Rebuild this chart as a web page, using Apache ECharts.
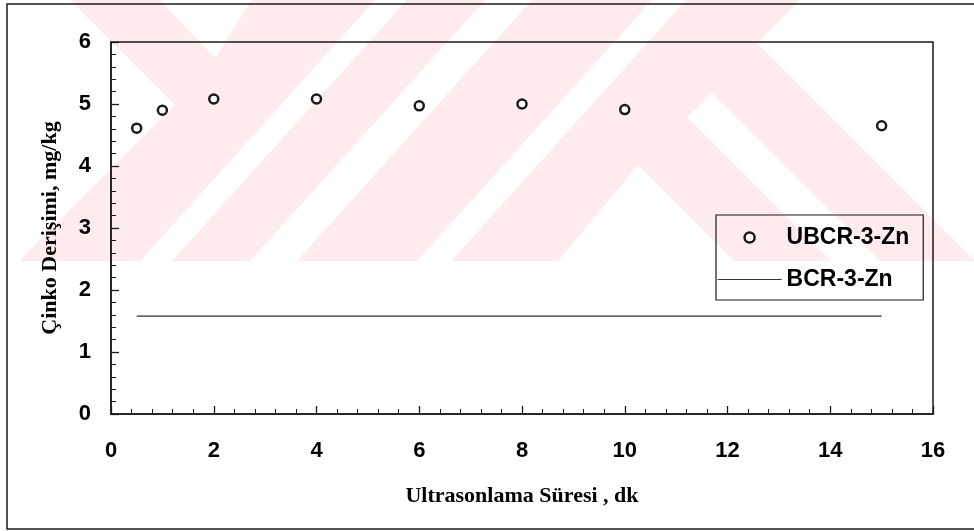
<!DOCTYPE html>
<html>
<head>
<meta charset="utf-8">
<script src="https://cdn.jsdelivr.net/npm/echarts@6/dist/echarts.min.js"></script>
<style>
html, body { margin: 0; padding: 0; background: #ffffff; }
#chart { width: 974px; height: 531px; }
</style>
</head>
<body>
<div id="chart"></div>
<script>
// ---- data ----
const xValues = [0.5, 1, 2, 4, 6, 8, 10, 15];            // Ultrasonlama Süresi, dk
const ubcrValues = [4.61, 4.90, 5.08, 5.08, 4.97, 5.00, 4.91, 4.65]; // UBCR-3-Zn, mg/kg
const bcrValues = [1.58, 1.58, 1.58, 1.58, 1.58, 1.58, 1.58, 1.58];  // BCR-3-Zn, mg/kg
const xTickLabels = ['0', '2', '4', '6', '8', '10', '12', '14', '16'];
const yTickLabels = ['0', '1', '2', '3', '4', '5', '6'];
const seriesNames = ['UBCR-3-Zn', 'BCR-3-Zn'];
const xTitle = 'Ultrasonlama Süresi , dk';
const yTitle = 'Çinko Derişimi, mg/kg';

const ink = '#1a1a1a';
const pink = '#fdebee';
const sans = '"Liberation Sans", Arial, sans-serif';
const serif = '"Liberation Serif", "Times New Roman", serif';

function whitePoly(points) {
  return { type: 'polygon', silent: true, z: -99, shape: { points: points }, style: { fill: '#ffffff' } };
}

const chart = echarts.init(document.getElementById('chart'), null, { renderer: 'canvas' });

const option = {
  animation: false,
  backgroundColor: '#ffffff',
  graphic: [
    // background watermark (decorative)
    { type: 'rect', silent: true, z: -100, shape: { x: 0, y: 0, width: 974, height: 261 }, style: { fill: pink } },
    whitePoly([[-10, -10], [60, -10], [175, 105], [0, 280], [-10, 280]]),
    whitePoly([[150, -10], [258, -10], [215, 58]]),
    whitePoly([[384, -10], [416, -10], [155, 280], [123, 280]]),
    whitePoly([[494, -10], [541, -10], [280, 280], [233, 280]]),
    whitePoly([[661, -10], [695, -10], [434, 280], [400, 280]]),
    whitePoly([[638, 165], [753, 280], [542, 280]]),
    whitePoly([[687, 117], [712, 93], [899, 280], [850, 280]]),
    whitePoly([[757, 43], [810, -10], [1000, -10], [1000, 286]]),
    // outer frame
    { type: 'rect', silent: true, z: 50, shape: { x: 7, y: 4, width: 990, height: 525 },
      style: { fill: null, stroke: ink, lineWidth: 1.5 } }
  ],
  grid: {
    left: 111, top: 42, width: 822, height: 372,
    show: true, borderColor: ink, borderWidth: 1.5, backgroundColor: 'transparent',
    containLabel: false
  },
  legend: {
    orient: 'vertical',
    left: 716, top: 215,
    padding: [11, 14, 9, 1],
    itemWidth: 64, itemHeight: 10, itemGap: 19,
    borderColor: ink, borderWidth: 1.2,
    backgroundColor: 'transparent',
    textStyle: { fontFamily: sans, fontWeight: 'bold', fontSize: 23, color: '#000', lineHeight: 23 },
    data: [
      { name: seriesNames[0], icon: 'circle', itemStyle: { color: '#ffffff', borderColor: ink, borderWidth: 2.5 } },
      { name: seriesNames[1],
        itemStyle: { color: 'rgba(0,0,0,0)', borderColor: 'rgba(0,0,0,0)', borderWidth: 0 },
        lineStyle: { color: '#333333', width: 1.2 } }
    ]
  },
  xAxis: {
    type: 'value', min: 0, max: 16, interval: 2,
    name: xTitle, nameLocation: 'middle', nameGap: 71,
    nameTextStyle: { fontFamily: serif, fontWeight: 'bold', fontSize: 22, color: '#000' },
    axisLine: { show: true, lineStyle: { color: ink, width: 1.5 } },
    axisTick: { show: true, inside: true, length: 8, lineStyle: { color: ink, width: 1.3 } },
    minorTick: { show: true, splitNumber: 5, length: 5, lineStyle: { color: ink, width: 1 } },
    splitLine: { show: false },
    axisLabel: {
      margin: 26, fontFamily: sans, fontWeight: 'bold', fontSize: 22, color: '#000',
      formatter: function (v) { return xTickLabels[Math.round(v / 2)]; }
    }
  },
  yAxis: {
    type: 'value', min: 0, max: 6, interval: 1,
    name: yTitle, nameLocation: 'middle', nameGap: 50, nameRotate: 90,
    nameTextStyle: { fontFamily: serif, fontWeight: 'bold', fontSize: 22, color: '#000' },
    axisLine: { show: true, lineStyle: { color: ink, width: 1.5 } },
    axisTick: { show: true, inside: true, length: 8, lineStyle: { color: ink, width: 1.3 } },
    minorTick: { show: true, splitNumber: 5, length: 5, lineStyle: { color: ink, width: 1 } },
    splitLine: { show: false },
    axisLabel: {
      margin: 20, fontFamily: sans, fontWeight: 'bold', fontSize: 22, color: '#000',
      formatter: function (v) { return yTickLabels[Math.round(v)]; }
    }
  },
  series: [
    {
      name: seriesNames[0], type: 'scatter', z: 10,
      symbol: 'circle', symbolSize: 9,
      itemStyle: { color: '#ffffff', borderColor: ink, borderWidth: 2.5, opacity: 1 },
      data: xValues.map(function (x, i) { return [x, ubcrValues[i]]; })
    },
    {
      name: seriesNames[1], type: 'line', z: 5,
      symbol: 'none', showSymbol: false,
      itemStyle: { color: '#333333' },
      lineStyle: { color: '#333333', width: 1.2 },
      data: xValues.map(function (x, i) { return [x, bcrValues[i]]; })
    }
  ]
};

chart.setOption(option);
</script>
</body>
</html>
